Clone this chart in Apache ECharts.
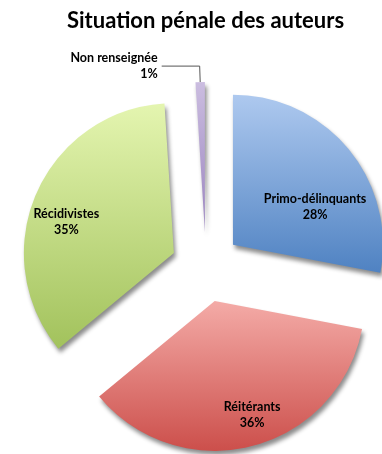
<!DOCTYPE html>
<html>
<head>
<meta charset="utf-8">
<script src="https://cdn.jsdelivr.net/npm/echarts@6/dist/echarts.min.js"></script>
<style>html,body{margin:0;padding:0;background:#fff}#c{width:382px;height:454px}</style>
</head>
<body>
<div id="c"></div>
<script>
var titleText = 'Situation pénale des auteurs';
var categories = ['Primo-délinquants', 'Réitérants', 'Récidivistes', 'Non renseignée'];
var values = [28, 36, 35, 1];
var topColors = ['#aec9ef', '#f4aba7', '#e4f5b0', '#cbbde0'];
var bottomColors = ['#4f82c2', '#cc4f4b', '#a2c25c', '#9a84bf'];
// label nudges (px) to mimic the tilted 3D placement
var labelNudge = [[22, 12], [18, 39], [-36, 0], [0, 0]];

var chart = echarts.init(document.getElementById('c'));
var data = categories.map(function (name, i) {
  var item = {
    name: name,
    value: values[i],
    selected: true,
    itemStyle: {
      color: new echarts.graphic.LinearGradient(0, 0, 0, 1, [
        { offset: 0, color: topColors[i] },
        { offset: 1, color: bottomColors[i] }
      ])
    }
  };
  if (i === 3) {
    item.label = { position: 'outside', distanceToLabelLine: 4 };
    item.labelLine = { show: true, length: 16, length2: 38, lineStyle: { color: '#555', width: 1 } };
  }
  return item;
});

chart.setOption({
  animation: false,
  title: {
    text: titleText,
    left: 62,
    top: 5,
    textStyle: { fontFamily: 'Lato', fontWeight: 'bold', fontSize: 22, color: '#000' }
  },
  series: [{
    type: 'pie',
    center: [206, 267],
    radius: [0, 150],
    startAngle: 90,
    clockwise: true,
    selectedMode: 'multiple',
    selectedOffset: 35,
    percentPrecision: 0,
    emphasis: { disabled: true },
    itemStyle: {
      shadowBlur: 4,
      shadowOffsetX: 2,
      shadowOffsetY: 4,
      shadowColor: 'rgba(0,0,0,0.45)'
    },
    label: {
      show: true,
      position: 'inside',
      formatter: '{b}\n{d}%',
      fontFamily: 'Lato',
      fontWeight: 'bold',
      fontSize: 12.5,
      lineHeight: 16,
      color: '#000',
      align: 'center'
    },
    labelLayout: function (p) {
      var n = labelNudge[p.dataIndex];
      return { dx: n[0], dy: n[1] };
    },
    data: data
  }]
});
</script>
</body>
</html>
